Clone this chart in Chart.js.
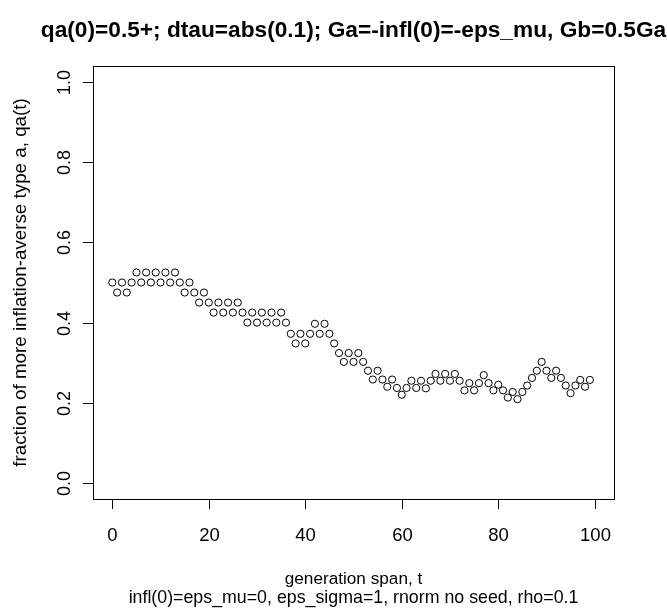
<!DOCTYPE html>
<html>
<head>
<meta charset="utf-8">
<script src="https://cdn.jsdelivr.net/npm/chart.js@4"></script>
<style>
  html, body { margin: 0; padding: 0; background: #ffffff; }
  canvas { display: block; }
</style>
</head>
<body>
<canvas id="qaChart" width="667" height="609"></canvas>
<script>
// --- Data ---
const generations = [
  0, 1, 2, 3, 4, 5, 6, 7, 8, 9, 10, 11, 12, 13, 14, 15, 16, 17, 18, 19,
  20, 21, 22, 23, 24, 25, 26, 27, 28, 29, 30, 31, 32, 33, 34, 35, 36, 37, 38, 39,
  40, 41, 42, 43, 44, 45, 46, 47, 48, 49, 50, 51, 52, 53, 54, 55, 56, 57, 58, 59,
  60, 61, 62, 63, 64, 65, 66, 67, 68, 69, 70, 71, 72, 73, 74, 75, 76, 77, 78, 79,
  80, 81, 82, 83, 84, 85, 86, 87, 88, 89, 90, 91, 92, 93, 94, 95, 96, 97, 98, 99
];
const qaValues = [
  0.500, 0.475, 0.500, 0.475, 0.500, 0.525, 0.500, 0.525, 0.500, 0.525,
  0.500, 0.525, 0.500, 0.525, 0.500, 0.475, 0.500, 0.475, 0.450, 0.475,
  0.450, 0.425, 0.450, 0.425, 0.450, 0.425, 0.450, 0.425, 0.400, 0.425,
  0.400, 0.425, 0.400, 0.425, 0.400, 0.425, 0.400, 0.372, 0.348, 0.372,
  0.348, 0.372, 0.397, 0.372, 0.397, 0.372, 0.348, 0.324, 0.302, 0.324,
  0.302, 0.324, 0.302, 0.280, 0.258, 0.280, 0.258, 0.240, 0.258, 0.237,
  0.220, 0.237, 0.255, 0.237, 0.255, 0.236, 0.255, 0.272, 0.255, 0.272,
  0.255, 0.272, 0.255, 0.231, 0.249, 0.231, 0.249, 0.269, 0.249, 0.231,
  0.245, 0.231, 0.213, 0.227, 0.209, 0.227, 0.243, 0.262, 0.280, 0.302,
  0.280, 0.262, 0.280, 0.262, 0.243, 0.224, 0.243, 0.257, 0.240, 0.257
];
const xTicks = [0, 20, 40, 60, 80, 100];
const yTicks = [0.0, 0.2, 0.4, 0.6, 0.8, 1.0];

const titleText = 'qa(0)=0.5+; dtau=abs(0.1); Ga=-infl(0)=-eps_mu, Gb=0.5Ga';
const xTitle = 'generation span, t';
const subTitle = 'infl(0)=eps_mu=0, eps_sigma=1, rnorm no seed, rho=0.1';
const yTitle = 'fraction of more inflation-averse type a, qa(t)';

const FONT = '"Liberation Sans", Arial, sans-serif';

// --- R-style frame, axes and labels ---
const rAxesPlugin = {
  id: 'rAxes',
  afterDraw(chart) {
    const ctx = chart.ctx;
    const area = chart.chartArea;
    const xs = chart.scales.x;
    const ys = chart.scales.y;
    const cx = (area.left + area.right) / 2;

    ctx.save();
    ctx.strokeStyle = '#000';
    ctx.fillStyle = '#000';
    ctx.lineWidth = 1;

    // box
    ctx.strokeRect(Math.round(area.left) + 0.5, Math.round(area.top) + 0.5,
      Math.round(area.right - area.left), Math.round(area.bottom - area.top));

    // x ticks
    ctx.font = '18.5px ' + FONT;
    ctx.textAlign = 'center';
    ctx.textBaseline = 'middle';
    xTicks.forEach(v => {
      const px = Math.round(xs.getPixelForValue(v)) + 0.5;
      ctx.beginPath();
      ctx.moveTo(px, area.bottom);
      ctx.lineTo(px, area.bottom + 10);
      ctx.stroke();
      ctx.fillText(String(v), px, 536);
    });

    // y ticks (labels rotated, as R does)
    ctx.font = '18px ' + FONT;
    yTicks.forEach(v => {
      const py = Math.round(ys.getPixelForValue(v)) + 0.5;
      ctx.beginPath();
      ctx.moveTo(area.left, py);
      ctx.lineTo(area.left - 10, py);
      ctx.stroke();
      ctx.save();
      ctx.translate(65, py);
      ctx.rotate(-Math.PI / 2);
      ctx.fillText(v.toFixed(1), 0, 0);
      ctx.restore();
    });

    // axis titles
    ctx.font = '17.2px ' + FONT;
    ctx.fillText(xTitle, cx, 579);
    ctx.font = '17.8px ' + FONT;
    ctx.textBaseline = 'alphabetic';
    ctx.fillText(subTitle, cx, 603);
    ctx.textBaseline = 'middle';
    ctx.font = '18.8px ' + FONT;
    ctx.save();
    ctx.translate(21, (area.top + area.bottom) / 2);
    ctx.rotate(-Math.PI / 2);
    ctx.fillText(yTitle, 0, 0);
    ctx.restore();

    // main title
    ctx.font = 'bold 22.7px ' + FONT;
    ctx.fillText(titleText, cx, 31);
    ctx.restore();
  }
};

const points = generations.map((t, i) => ({ x: t, y: qaValues[i] }));

new Chart(document.getElementById('qaChart').getContext('2d'), {
  type: 'scatter',
  data: {
    datasets: [{
      data: points,
      pointStyle: 'circle',
      pointRadius: 3.6,
      pointBorderWidth: 1,
      pointBorderColor: '#000',
      pointBackgroundColor: 'rgba(0,0,0,0)',
      showLine: false
    }]
  },
  options: {
    responsive: false,
    animation: false,
    devicePixelRatio: 1,
    layout: { padding: { left: 93, right: 53, top: 66, bottom: 110 } },
    plugins: { legend: { display: false }, tooltip: { enabled: false } },
    scales: {
      x: { type: 'linear', min: -4, max: 104, display: false },
      y: { type: 'linear', min: -0.04, max: 1.04, display: false }
    }
  },
  plugins: [rAxesPlugin]
});
</script>
</body>
</html>
